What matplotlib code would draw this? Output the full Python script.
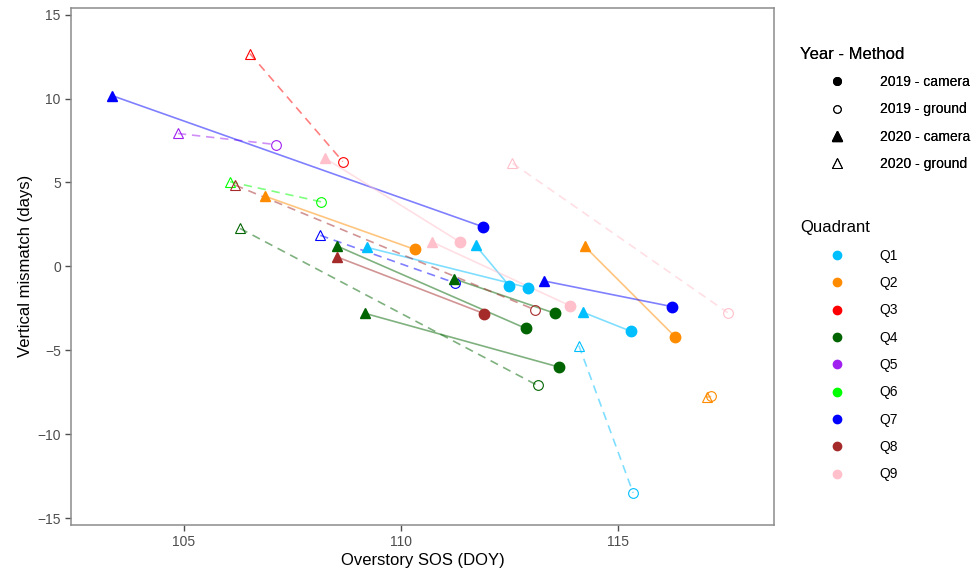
import numpy as np
import pandas as pd
import matplotlib
matplotlib.use("Agg")
import matplotlib.pyplot as plt
from matplotlib.lines import Line2D

plt.rcParams['font.family'] = ['Liberation Sans', 'DejaVu Sans']

# one row per quadrant/method pair: 2020 point -> 2019 point
quadrant = ["Q1", "Q1", "Q1", "Q1", "Q2", "Q2", "Q2", "Q3", "Q4", "Q4", "Q4",
            "Q4", "Q5", "Q6", "Q7", "Q7", "Q7", "Q8", "Q8", "Q9", "Q9", "Q9"]
method = ["camera", "camera", "camera", "ground", "camera", "camera", "ground",
          "ground", "camera", "camera", "camera", "ground", "ground", "ground",
          "camera", "camera", "ground", "camera", "ground", "camera", "camera",
          "ground"]
sos_2020 = [109.22, 111.72, 114.20, 114.10, 106.87, 114.23, 117.05, 106.52,
            108.53, 111.23, 109.17, 106.29, 104.86, 106.06, 103.34, 113.30,
            108.14, 108.53, 106.18, 108.26, 110.72, 112.57]
mis_2020 = [1.13, 1.25, -2.74, -4.72, 4.18, 1.2, -7.8, 12.68,
            1.21, -0.75, -2.8, 2.26, 7.92, 5.04, 10.18, -0.87,
            1.85, 0.56, 4.84, 6.43, 1.45, 6.15]
sos_2019 = [112.93, 112.50, 115.30, 115.35, 110.32, 116.32, 117.15, 108.66,
            112.87, 113.55, 113.64, 113.15, 107.12, 108.16, 111.90, 116.25,
            111.24, 111.92, 113.10, 111.35, 113.89, 117.53]
mis_2019 = [-1.27, -1.17, -3.87, -13.5, 1.01, -4.2, -7.75, 6.25,
            -3.69, -2.8, -6.0, -7.1, 7.26, 3.85, 2.35, -2.4,
            -0.98, -2.82, -2.6, 1.47, -2.34, -2.76]

quad_names = ["Q1", "Q2", "Q3", "Q4", "Q5", "Q6", "Q7", "Q8", "Q9"]
quad_colors = ["#00BFFF", "#FF8C00", "#FF0000", "#006400", "#A020F0",
               "#00FF00", "#0000FF", "#A52A2A", "#FFC0CB"]
year_method = ["2019 - camera", "2019 - ground", "2020 - camera", "2020 - ground"]

df = pd.DataFrame({"quadrant": quadrant, "method": method,
                   "x20": sos_2020, "y20": mis_2020,
                   "x19": sos_2019, "y19": mis_2019})
cmap = dict(zip(quad_names, quad_colors))

fig = plt.figure(figsize=(9.75, 5.71), dpi=100)
ax = fig.add_axes([0.073, 0.081, 0.721, 0.905])

for _, r in df.iterrows():
    c = cmap[r.quadrant]
    ls = "-" if r.method == "camera" else (0, (5, 3.5))
    ax.plot([r.x20, r.x19], [r.y20, r.y19], color=c, alpha=0.5, lw=1.2, ls=ls,
            zorder=2)

for _, r in df.iterrows():
    c = cmap[r.quadrant]
    if r.method == "camera":
        ax.plot(r.x19, r.y19, "o", ms=7.5, color=c, mec=c, zorder=3)
        ax.plot(r.x20, r.y20, "^", ms=7.5, color=c, mec=c, zorder=4)
    else:
        ax.plot(r.x19, r.y19, "o", ms=7, mfc="none", mec=c, mew=0.8, zorder=3)
        ax.plot(r.x20, r.y20, "^", ms=7.5, mfc="none", mec=c, mew=0.8, zorder=4)

ax.set_xlim(102.4, 118.6)
ax.set_ylim(-15.4, 15.4)
ax.set_xticks([105, 110, 115])
ax.set_yticks([-15, -10, -5, 0, 5, 10, 15])
ax.set_yticklabels(["\u221215", "\u221210", "\u22125", "0", "5", "10", "15"])
for s in ax.spines.values():
    s.set_color("#8C8C8C")
    s.set_linewidth(1.1)
ax.tick_params(colors="#4D4D4D", labelsize=10, length=4, width=1,
               direction="out")
ax.set_xlabel("Overstory SOS (DOY)", fontsize=12, labelpad=3)
ax.set_ylabel("Vertical mismatch (days)", fontsize=12, labelpad=3)

# legends
leg_kw = dict(loc="upper left", frameon=False, fontsize=10, title_fontsize=12,
              alignment="left", handlelength=5.4, handletextpad=0.35,
              labelspacing=0.96, borderpad=0, borderaxespad=0)

ym_handles = [
    Line2D([], [], ls="none", marker="o", ms=5.5, color="black"),
    Line2D([], [], ls="none", marker="o", ms=5.5, mfc="none", mec="black", mew=0.7),
    Line2D([], [], ls="none", marker="^", ms=6.5, color="black"),
    Line2D([], [], ls="none", marker="^", ms=6.5, mfc="none", mec="black", mew=0.7),
]
leg1 = fig.legend(ym_handles, year_method, title="Year - Method",
                  bbox_to_anchor=(0.8205, 0.918), **leg_kw)
fig.add_artist(leg1)

q_handles = [Line2D([], [], ls="none", marker="o", ms=6, color=c)
             for c in quad_colors]
leg2 = fig.legend(q_handles, quad_names, title="Quadrant",
                  bbox_to_anchor=(0.8205, 0.614), **leg_kw)

fig.savefig("out.png", dpi=100)
